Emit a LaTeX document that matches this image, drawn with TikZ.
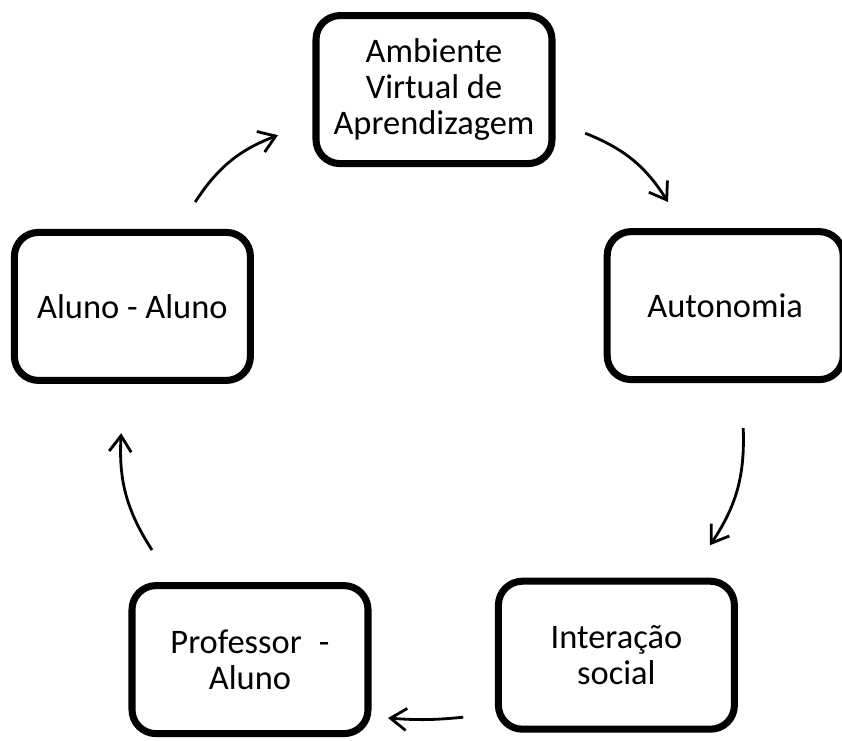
\documentclass[tikz,border=0pt]{standalone}
\usepackage{fontspec}
\setmainfont{Carlito}
\usepackage{tikz}
\usetikzlibrary{arrows.meta,shadows}

\begin{document}
\begin{tikzpicture}[
  box/.style={draw, line width=5pt, rounded corners=0.6cm, fill=white,
    minimum width=5.9cm, minimum height=3.7cm, align=center,
    font=\fontsize{24.5}{25.5}\selectfont,
    drop shadow={opacity=0.3, shadow xshift=2pt, shadow yshift=-2pt}},
  arr/.style={line width=2pt, -{Straight Barb[length=4mm,width=5.5mm]}, bend left=18}
]
\useasboundingbox (0,0) rectangle (21.05,-18.5);

\node[box] (ava) at (10.85,-2.24) {Ambiente\\Virtual de\\Aprendizagem};
\node[box] (auto) at (18.13,-7.64) {Autonomia};
\node[box] (inter) at (15.41,-16.38) {Interação\\social};
\node[box] (prof) at (6.25,-16.49) {Professor\enspace -\\Aluno};
\node[box] (aluno) at (3.31,-7.66) {Aluno - Aluno};

% ends of the arrows
\coordinate (a1) at (14.63,-3.33);  \coordinate (b1) at (16.70,-5.05);
\coordinate (a2) at (18.58,-10.70); \coordinate (b2) at (17.75,-13.63);
\coordinate (a3) at (11.58,-17.93); \coordinate (b3) at (9.70,-17.95);
\coordinate (a4) at (3.80,-13.75);  \coordinate (b4) at (3.03,-10.83);
\coordinate (a5) at (4.88,-5.05);   \coordinate (b5) at (6.95,-3.38);

\draw[arr] (a1) to (b1);
\draw[arr] (a2) to (b2);
\draw[arr, bend left=5] (a3) to (b3);
\draw[arr] (a4) to (b4);
\draw[arr] (a5) to (b5);
\end{tikzpicture}
\end{document}
